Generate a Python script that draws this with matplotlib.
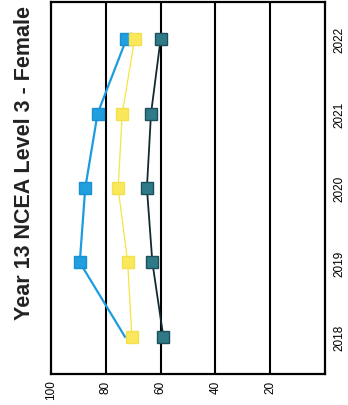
import numpy as np
import matplotlib.pyplot as plt

plt.rcParams['font.family'] = ['Liberation Sans', 'DejaVu Sans']

years = ["2018", "2019", "2020", "2021", "2022"]
blue_vals = [73, 89.5, 87.5, 83, 72.5]
yellow_vals = [70.5, 72, 75.5, 74, 69.5]
teal_vals = [59, 63, 65, 63.5, 60]
value_ticks = [100, 80, 60, 40, 20]

fig = plt.figure(figsize=(3.48, 4.06), dpi=100)
ax = fig.add_axes([51 / 348, 31 / 406, 274 / 348, 372 / 406])

pos = np.arange(len(years)) + 0.5

# blue marker at 2018 is hidden in the scan, so skip it
ax.plot(blue_vals, pos, color="#1b9ce0", lw=1.6, marker="s", ms=8,
        mfc="#1f9fdf", mec="#1b8fd0", markevery=[1, 2, 3, 4], zorder=3)
ax.plot(yellow_vals, pos, color="#f5e640", lw=0.9, marker="s", ms=8,
        mfc="#fbe85a", mec="#f3df50", zorder=4)
ax.plot(teal_vals, pos, color="#102a30", lw=1.3, marker="s", ms=8.5,
        mfc="#2f7a88", mec="#1d4f5a", zorder=3)

ax.set_xlim(100, 0)
ax.set_ylim(0, len(years))

for v in [80, 60, 40, 20]:
    ax.axvline(v, color="black", lw=1.5, zorder=1)

ax.set_xticks(value_ticks)
ax.set_xticklabels([str(v) for v in value_ticks], rotation=90, fontsize=8.5)
ax.tick_params(axis="x", length=0, pad=4)

ax.yaxis.tick_right()
ax.set_yticks(pos)
ax.set_yticklabels(years, rotation=90, fontsize=8.5, va="center")
ax.tick_params(axis="y", length=0, pad=6)

for s in ax.spines.values():
    s.set_linewidth(1.6)

fig.text(25 / 348, 1 - 163 / 406, "Year 13 NCEA Level 3 - Female", rotation=90,
         ha="center", va="center", fontsize=15.5, fontweight="bold", color="#222222")

fig.savefig("out.png", dpi=100)
